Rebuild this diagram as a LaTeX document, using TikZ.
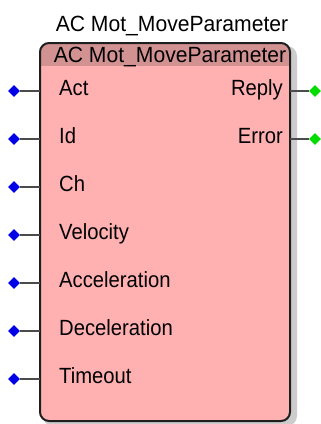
\documentclass[tikz,border=0pt]{standalone}
\usepackage{fontspec}
\setmainfont{Liberation Sans}[FakeStretch=0.92]
\newfontfamily\titlefont{Liberation Sans}[FakeStretch=0.96]
\usetikzlibrary{shapes.geometric}
\definecolor{blkfill}{RGB}{255,176,176}
\definecolor{hdrfill}{RGB}{210,146,146}
\definecolor{pinin}{RGB}{0,0,230}
\definecolor{pinout}{RGB}{0,220,0}
\definecolor{edgec}{RGB}{30,30,30}
\tikzset{
  inpin/.style={diamond,fill=pinin,inner sep=0pt,minimum size=12pt},
  outpin/.style={diamond,fill=pinout,inner sep=0pt,minimum size=12pt},
  wire/.style={draw=edgec!80,line width=1.3pt},
  lbl/.style={inner sep=0pt,font=\fontsize{22}{24}\selectfont},
}
\begin{document}
\begin{tikzpicture}[x=1pt,y=-1pt]
\useasboundingbox (0,0) rectangle (321,424);
% shadow
\fill[black!35,rounded corners=10pt] (44,47) rectangle (295,424);
\fill[black!20,rounded corners=10pt] (43,46) rectangle (297,426);
% body
\fill[blkfill,rounded corners=9pt] (40,43) rectangle (290,421);
\begin{scope}
\clip[rounded corners=9pt] (40,43) rectangle (290,421);
\fill[hdrfill] (40,43) rectangle (290,66);
\end{scope}
\draw[edgec,line width=2pt,rounded corners=9pt] (40,43) rectangle (290,421);
% titles
\node[lbl,anchor=base,font=\titlefont\fontsize{22}{24}\selectfont] (title) at (172,31) {AC Mot\_MoveParameter};
\node[lbl,anchor=base,font=\titlefont\fontsize{22}{24}\selectfont] (hdr) at (170,62) {AC Mot\_MoveParameter};
% inputs
\foreach \n/\t [count=\i from 0] in {act/Act,id/Id,ch/Ch,vel/Velocity,acc/Acceleration,dec/Deceleration,tmo/Timeout}{
  \coordinate (\n e) at (40,91+48*\i);
  \node[inpin] (\n p) at (14,91+48*\i) {};
  \draw[wire] (\n p) -- (\n e);
  \node[lbl,anchor=base west] (\n l) at (59,95+48*\i) {\t};
}
% outputs
\foreach \n/\t [count=\i from 0] in {rep/Reply,err/Error}{
  \coordinate (\n e) at (290,91+48*\i);
  \node[outpin] (\n p) at (315,91+48*\i) {};
  \draw[wire] (\n e) -- (\n p);
  \node[lbl,anchor=base east] (\n l) at (283,95+48*\i) {\t};
}
\end{tikzpicture}
\end{document}
